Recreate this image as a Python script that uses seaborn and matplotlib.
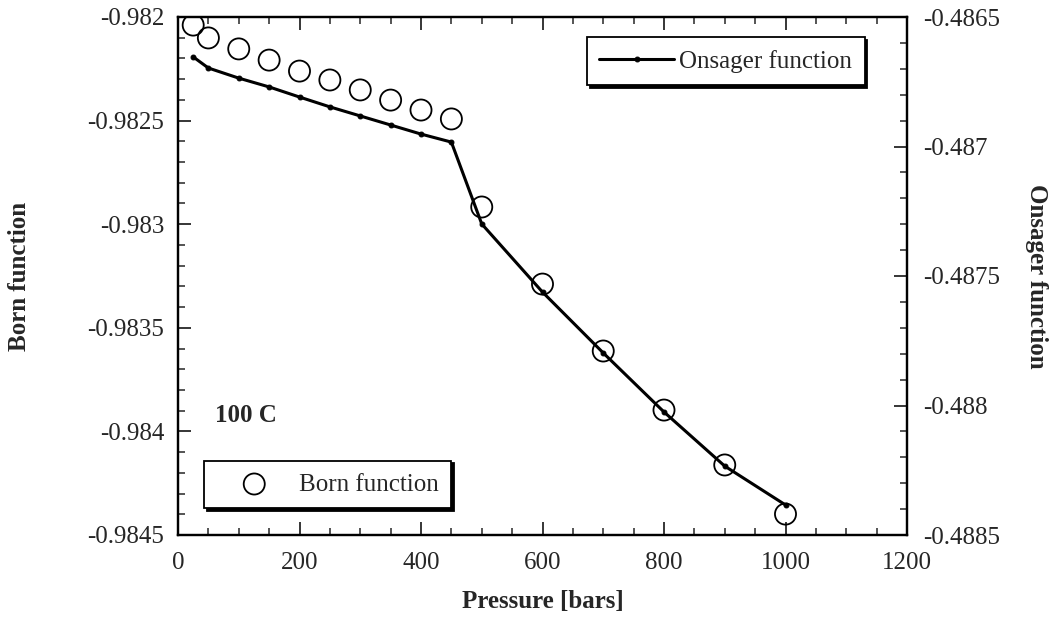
import matplotlib
matplotlib.use("Agg")
import matplotlib.pyplot as plt
from matplotlib.ticker import MultipleLocator, FixedLocator
import seaborn as sns
import pandas as pd

pressure = [25, 50, 100, 150, 200, 250, 300, 350, 400, 450, 500, 600, 700, 800, 900, 1000]
born = [-0.982039, -0.982101, -0.982154, -0.982208, -0.982261, -0.982304, -0.982352,
        -0.982401, -0.982449, -0.982492, -0.982917, -0.983289, -0.983612, -0.983897,
        -0.984162, -0.984399]
onsager = [-0.486654, -0.486697, -0.486736, -0.486770, -0.486809, -0.486847, -0.486882,
           -0.486917, -0.486952, -0.486983, -0.487299, -0.487562, -0.487797, -0.488025,
           -0.488234, -0.488384]
born_ticks = [-0.9845, -0.984, -0.9835, -0.983, -0.9825, -0.982]
born_labels = ["-0.9845", "-0.984", "-0.9835", "-0.983", "-0.9825", "-0.982"]
onsager_ticks = [-0.4885, -0.488, -0.4875, -0.487, -0.4865]
onsager_labels = ["-0.4885", "-0.488", "-0.4875", "-0.487", "-0.4865"]

df = pd.DataFrame({"Pressure": pressure, "Born": born, "Onsager": onsager})

sns.set_style("ticks")
plt.rcParams["font.family"] = ["Liberation Serif", "DejaVu Serif"]
plt.rcParams["xtick.direction"] = "in"
plt.rcParams["ytick.direction"] = "in"

FS = 18

fig = plt.figure(figsize=(10.55, 6.28), dpi=100)
ax = fig.add_axes([178/1055, 1-535/628, (907-178)/1055, (535-17)/628])
ax2 = ax.twinx()

sns.scatterplot(data=df, x="Pressure", y="Born", ax=ax, s=230, marker="o",
                facecolor="none", edgecolor="black", linewidth=1.3,
                label="Born function", zorder=3)
sns.lineplot(data=df, x="Pressure", y="Onsager", ax=ax2, color="black", linewidth=2.2,
             marker="o", markersize=3.5, markeredgecolor="black",
             label="Onsager function")

ax.set_xlim(0, 1200)
ax.set_ylim(-0.9845, -0.982)
ax2.set_ylim(-0.4885, -0.4865)

ax.xaxis.set_major_locator(MultipleLocator(200))
ax.xaxis.set_minor_locator(MultipleLocator(50))
ax.yaxis.set_major_locator(FixedLocator(born_ticks))
ax.set_yticklabels(born_labels)
ax.yaxis.set_minor_locator(MultipleLocator(0.0001))
ax2.yaxis.set_major_locator(FixedLocator(onsager_ticks))
ax2.set_yticklabels(onsager_labels)
ax2.yaxis.set_minor_locator(MultipleLocator(0.0001))

ax.tick_params(axis="both", which="major", length=9.5, width=1.3, labelsize=FS, top=True)
ax.tick_params(axis="both", which="minor", length=5, width=1.1, top=True)
ax.tick_params(axis="x", which="major", pad=12)
ax.tick_params(axis="y", which="major", pad=10)
ax.tick_params(axis="y", which="both", right=False)
ax2.tick_params(axis="y", which="major", length=9.5, width=1.3, labelsize=FS, pad=11.5)
ax2.tick_params(axis="y", which="minor", length=5, width=1.1)

for a in (ax, ax2):
    for sp in a.spines.values():
        sp.set_linewidth(1.6)
        sp.set_color("black")
        sp.set_visible(True)

ax.set_xlabel("Pressure [bars]", fontsize=FS, fontweight="bold")
ax.set_ylabel("Born function", fontsize=FS, fontweight="bold")
ax2.set_ylabel("Onsager function", fontsize=FS, fontweight="bold", rotation=270)
ax.xaxis.set_label_coords(0.5, -0.129)
ax.xaxis.label.set_va("center")
ax.yaxis.set_label_coords(-0.217, 0.5)
ax.yaxis.label.set_va("center")
ax2.yaxis.set_label_coords(1.178, 0.5)
ax2.yaxis.label.set_va("center")

ax.text(61, -0.983921, "100 C", fontsize=FS, fontweight="bold", va="center", ha="left")

leg1 = ax.legend(loc="lower left", bbox_to_anchor=(0.036, 0.052), frameon=True,
                 fancybox=False, shadow={"color": "black", "alpha": 1}, edgecolor="black",
                 fontsize=FS, borderpad=0.5, handletextpad=0.3, borderaxespad=0,
                 handlelength=3.0)
leg1.get_frame().set_linewidth(1.3)
leg1.get_frame().set_alpha(1)
leg2 = ax2.legend(loc="upper right", bbox_to_anchor=(0.942, 0.961), frameon=True,
                  fancybox=False, shadow={"color": "black", "alpha": 1}, edgecolor="black",
                  fontsize=FS, borderpad=0.5, handlelength=3.0, handletextpad=0.2,
                  borderaxespad=0)
leg2.get_frame().set_linewidth(1.3)
leg2.get_frame().set_alpha(1)

fig.savefig("out.png", dpi=100, facecolor="white")
